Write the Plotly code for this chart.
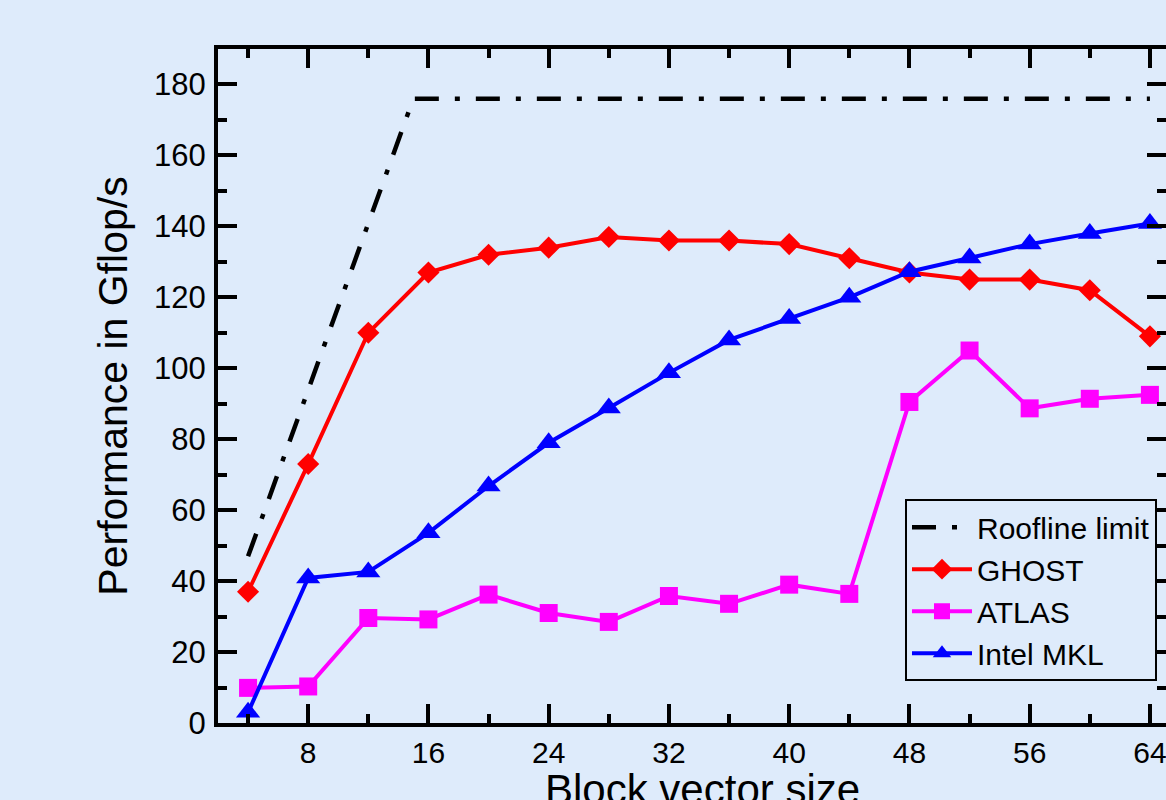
import plotly.graph_objects as go

block_sizes = [4, 8, 12, 16, 20, 24, 28, 32, 36, 40, 44, 48, 52, 56, 60, 64]
ghost = [37, 73, 110, 127, 132, 134, 137, 136, 136, 135, 131, 127, 125, 125, 122, 109]
atlas = [9.9, 10.3, 29.6, 29.2, 36.2, 31, 28.5, 35.8, 33.6, 39, 36.4, 90.5, 105, 88.7, 91.4, 92.5]
mkl = [3, 40.9, 42.6, 53.6, 66.8, 79, 88.8, 98.7, 108, 114, 120, 127.2, 131.1, 135, 138, 140.8]
roof_x = [4, 15, 64]
roof_y = [47, 176, 176]

x_ticks = [8, 16, 24, 32, 40, 48, 56, 64]
y_ticks = [0, 20, 40, 60, 80, 100, 120, 140, 160, 180]

BG = "#deebfb"
FONT = "Liberation Sans, Arial, Helvetica, sans-serif"

fig = go.Figure()
fig.add_trace(go.Scatter(
    x=roof_x, y=roof_y, mode="lines", name="Roofline limit",
    line=dict(color="black", width=4.5, dash="24px,16px,5px,16px"),
))
fig.add_trace(go.Scatter(
    x=block_sizes, y=ghost, mode="lines+markers", name="GHOST",
    line=dict(color="#ff0000", width=4),
    marker=dict(symbol="diamond", size=17, color="#ff0000"),
))
fig.add_trace(go.Scatter(
    x=block_sizes, y=atlas, mode="lines+markers", name="ATLAS",
    line=dict(color="#ff00ff", width=4),
    marker=dict(symbol="square", size=18, color="#ff00ff"),
))
fig.add_trace(go.Scatter(
    x=block_sizes, y=mkl, mode="lines+markers", name="Intel MKL",
    line=dict(color="#0000ff", width=4),
    marker=dict(symbol="triangle-up", size=21, color="#0000ff"),
))

fig.update_layout(
    width=1166, height=800,
    margin=dict(l=218, r=0, t=49, b=77, autoexpand=False),
    paper_bgcolor=BG, plot_bgcolor=BG,
    font=dict(family=FONT, color="black", size=31),
    showlegend=True,
    legend=dict(
        x=0.9905, y=0.062, xanchor="right", yanchor="bottom",
        bgcolor=BG, bordercolor="black", borderwidth=2,
        font=dict(size=30), tracegroupgap=0, itemwidth=60,
    ),
    annotations=[dict(
        text="Block vector size", xref="paper", yref="paper",
        x=0.5116, y=-0.099, xanchor="center", yanchor="middle",
        showarrow=False, font=dict(size=42),
    )],
)

fig.update_xaxes(
    range=[2, 65.07], tickmode="array", tickvals=x_ticks,
    ticktext=[str(v) for v in x_ticks],
    ticks="inside", ticklen=19, tickwidth=4, tickcolor="black",
    showline=True, linewidth=4, linecolor="black", mirror="allticks",
    showgrid=False, zeroline=False, automargin=False,
    tickfont=dict(size=30), ticklabeloverflow="allow",
    minor=dict(dtick=4, tick0=0, ticks="inside", ticklen=9, tickwidth=4,
               tickcolor="black", showgrid=False),
)
fig.update_yaxes(
    range=[0, 190], tickmode="array", tickvals=y_ticks,
    ticktext=[str(v) for v in y_ticks],
    ticks="inside", ticklen=19, tickwidth=4, tickcolor="black",
    showline=True, linewidth=4, linecolor="black", mirror="allticks",
    showgrid=False, zeroline=False, automargin=False,
    tickfont=dict(size=31), ticklabelstandoff=2, ticklabeloverflow="allow",
    minor=dict(dtick=10, tick0=0, ticks="inside", ticklen=9, tickwidth=4,
               tickcolor="black", showgrid=False),
    title=dict(text="Performance in Gflop/s", font=dict(size=41)),
)

fig.write_html(
    "out.html",
    config={"displayModeBar": False},
    post_script="document.body.style.margin='0px';document.body.style.background='" + BG + "';",
)
